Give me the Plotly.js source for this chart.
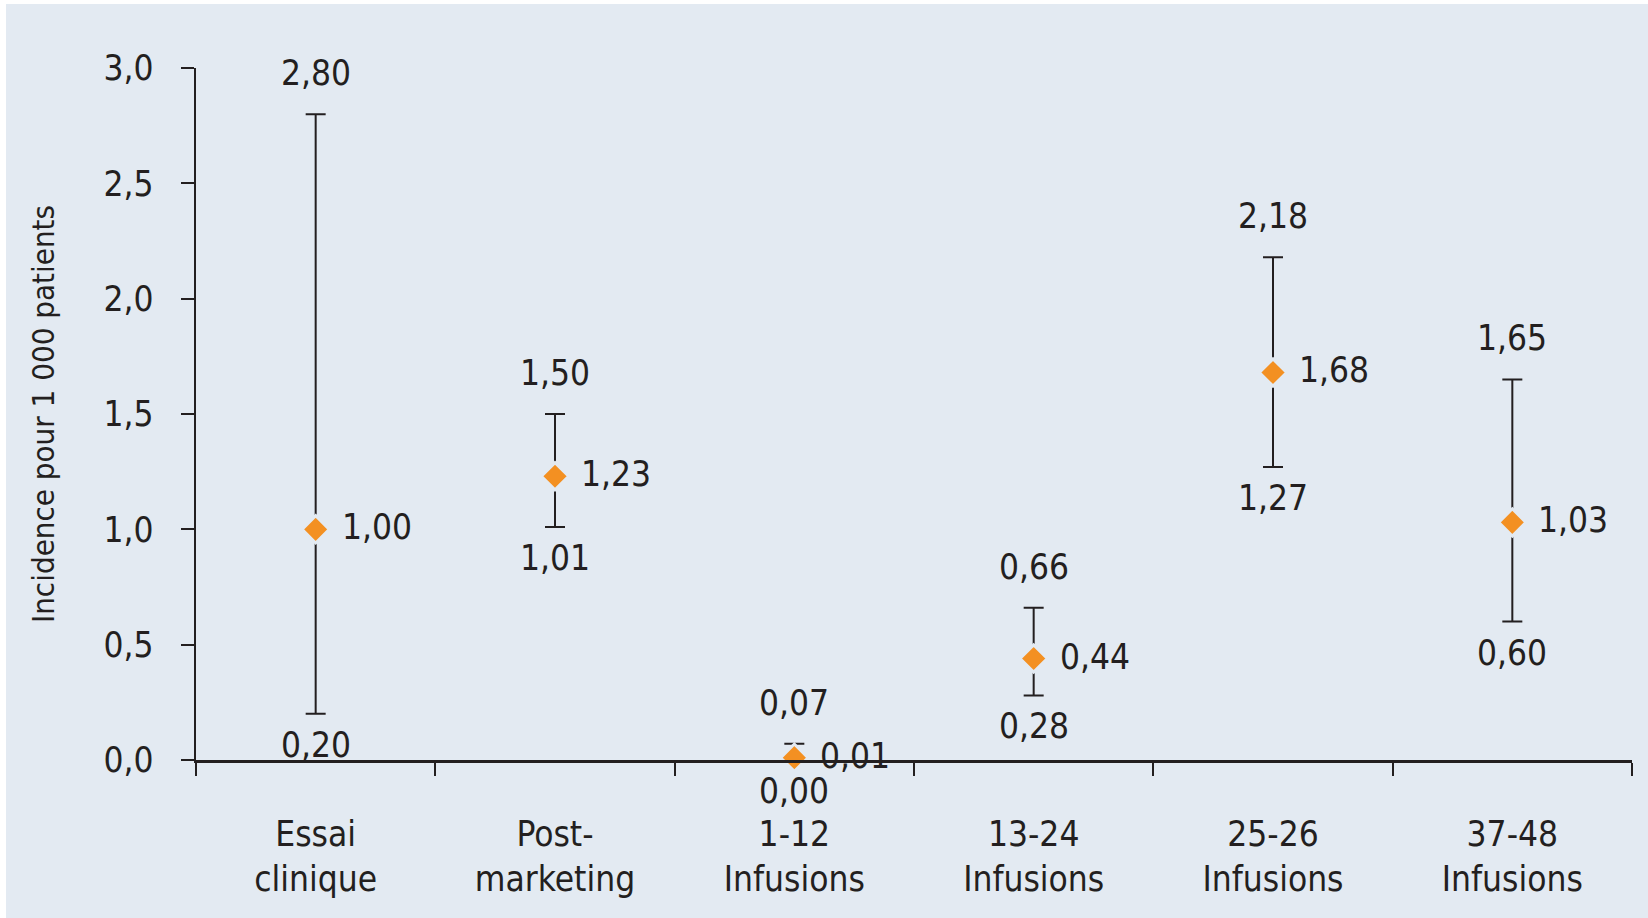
<!DOCTYPE html>
<html>
<head>
<meta charset="utf-8">
<script src="https://cdn.plot.ly/plotly-3.0.1.min.js"></script>
<style>
  html, body { margin: 0; padding: 0; background: #ffffff; }
  #chart { position: absolute; left: 6px; top: 4px; width: 1642px; height: 914px; }
</style>
</head>
<body>
<div id="chart"></div>
<script>
// ---- Data ----
const categories = ["Essai clinique", "Post-marketing", "1-12 Infusions", "13-24 Infusions", "25-26 Infusions", "37-48 Infusions"];
const tickLabels = ["Essai<br>clinique", "Post-<br>marketing", "1-12<br>Infusions", "13-24<br>Infusions", "25-26<br>Infusions", "37-48<br>Infusions"];
const incidence = [1.00, 1.23, 0.01, 0.44, 1.68, 1.03];
const lowerCI = [0.20, 1.01, 0.00, 0.28, 1.27, 0.60];
const upperCI = [2.80, 1.50, 0.07, 0.66, 2.18, 1.65];
const yTickVals = [0, 0.5, 1.0, 1.5, 2.0, 2.5, 3.0];

// ---- Styling ----
const BG = "#e3eaf2";
const INK = "#231f20";
const ORANGE = "#f39022";
const FONT = "'Liberation Sans Narrow', 'DejaVu Sans Condensed', 'Roboto Condensed', sans-serif";
const fmt = (v, d) => v.toFixed(d).replace(".", ",");

const trace = {
  type: "scatter",
  mode: "markers",
  x: categories,
  y: incidence,
  marker: { symbol: "diamond", size: 21, color: ORANGE, line: { color: BG, width: 3 } },
  error_y: {
    type: "data",
    symmetric: false,
    array: upperCI.map((u, i) => u - incidence[i]),
    arrayminus: incidence.map((v, i) => v - lowerCI[i]),
    color: INK,
    thickness: 2,
    width: 10
  },
  hoverinfo: "skip",
  cliponaxis: false
};

const annotations = [];
categories.forEach((c, i) => {
  annotations.push({
    x: c, y: upperCI[i], xref: "x", yref: "y",
    text: fmt(upperCI[i], 2), showarrow: false,
    yanchor: "bottom", yshift: 19, font: { family: FONT, size: 35, color: INK }
  });
  annotations.push({
    x: c, y: lowerCI[i], xref: "x", yref: "y",
    text: fmt(lowerCI[i], 2), showarrow: false,
    yanchor: "top", yshift: -9, font: { family: FONT, size: 35, color: INK }
  });
  annotations.push({
    x: c, y: incidence[i], xref: "x", yref: "y",
    text: fmt(incidence[i], 2), showarrow: false,
    xanchor: "left", xshift: 24, yshift: 2, font: { family: FONT, size: 35, color: INK }
  });
});

const layout = {
  width: 1642,
  height: 914,
  paper_bgcolor: BG,
  plot_bgcolor: BG,
  margin: { l: 190, r: 16, t: 64, b: 158 },
  showlegend: false,
  font: { family: FONT, size: 35, color: INK },
  xaxis: {
    type: "category",
    range: [-0.5, 5.5],
    tickvals: categories,
    ticktext: tickLabels,
    tickson: "boundaries",
    ticks: "outside",
    ticklen: 13,
    tickwidth: 2,
    tickcolor: INK,
    showline: true,
    linecolor: INK,
    linewidth: 2.5,
    showgrid: false,
    zeroline: false,
    ticklabelstandoff: 41,
    tickfont: { family: FONT, size: 35, color: INK },
    fixedrange: true
  },
  yaxis: {
    range: [0, 3],
    tickvals: yTickVals,
    ticktext: yTickVals.map(v => fmt(v, 1)),
    ticks: "outside",
    ticklen: 13,
    tickwidth: 2,
    tickcolor: INK,
    showline: true,
    linecolor: INK,
    linewidth: 2.5,
    showgrid: false,
    zeroline: false,
    ticklabelstandoff: 20,
    tickfont: { family: FONT, size: 35, color: INK },
    title: { text: "Incidence pour 1 000 patients", font: { family: FONT, size: 31, color: INK }, standoff: 40 },
    fixedrange: true
  },
  annotations: annotations
};

Plotly.newPlot("chart", [trace], layout, { displayModeBar: false, staticPlot: true });
</script>
</body>
</html>
